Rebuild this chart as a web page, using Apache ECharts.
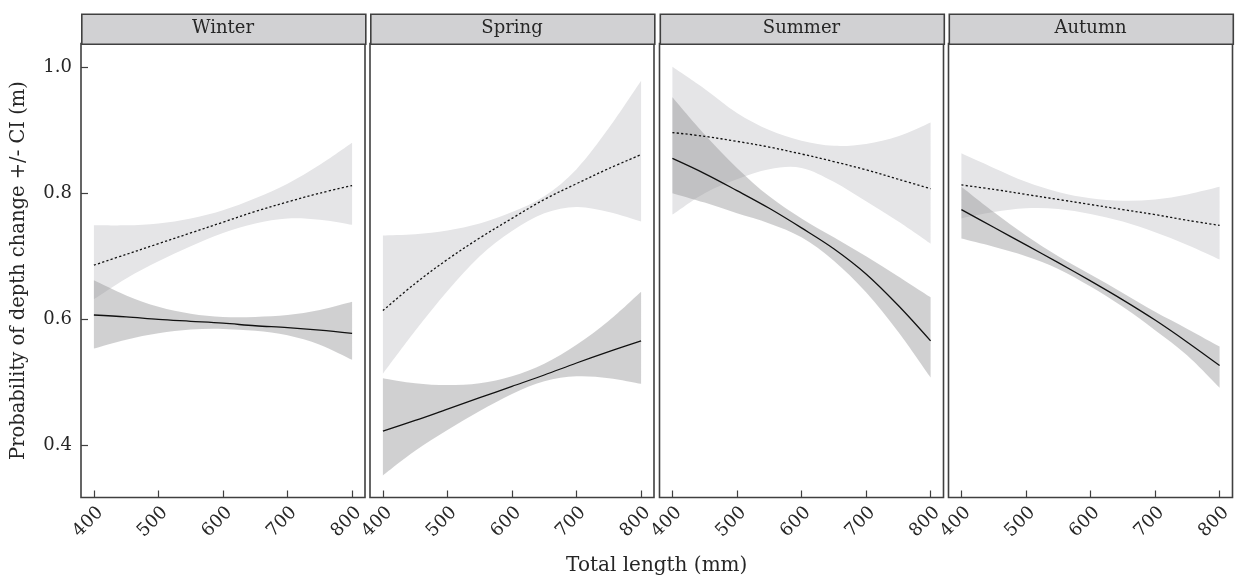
<!DOCTYPE html>
<html>
<head>
<meta charset="utf-8">
<script src="https://cdn.jsdelivr.net/npm/echarts@6/dist/echarts.min.js"></script>
<style>
html,body{margin:0;padding:0;background:#fff;}
#chart{width:1238px;height:579px;}
</style>
</head>
<body>
<div id="chart"></div>
<script>
// ---- data ----
const seasons = ['Winter', 'Spring', 'Summer', 'Autumn'];
const lengths = [400, 450, 500, 550, 600, 650, 700, 750, 800];
const xTicks = [400, 500, 600, 700, 800];
const yTicks = [0.4, 0.6, 0.8, 1.0];

// dotted line series (light CI band)
const winterDotted   = [0.686, 0.703, 0.720, 0.737, 0.754, 0.771, 0.786, 0.800, 0.812];
const winterDottedLo = [0.632, 0.665, 0.692, 0.716, 0.737, 0.752, 0.760, 0.758, 0.750];
const winterDottedHi = [0.749, 0.749, 0.752, 0.760, 0.773, 0.792, 0.815, 0.845, 0.880];
// solid line series (dark CI band)
const winterSolid    = [0.607, 0.604, 0.600, 0.597, 0.594, 0.590, 0.587, 0.583, 0.578];
const winterSolidLo  = [0.554, 0.568, 0.578, 0.584, 0.585, 0.582, 0.575, 0.560, 0.536];
const winterSolidHi  = [0.662, 0.638, 0.620, 0.609, 0.604, 0.604, 0.607, 0.615, 0.628];

const springDotted   = [0.614, 0.657, 0.695, 0.729, 0.760, 0.790, 0.815, 0.839, 0.861];
const springDottedLo = [0.514, 0.582, 0.645, 0.700, 0.740, 0.768, 0.778, 0.770, 0.755];
const springDottedHi = [0.733, 0.735, 0.741, 0.752, 0.770, 0.795, 0.838, 0.903, 0.978];
const springSolid    = [0.423, 0.440, 0.458, 0.476, 0.494, 0.512, 0.531, 0.549, 0.566];
const springSolidLo  = [0.353, 0.392, 0.425, 0.455, 0.482, 0.502, 0.510, 0.507, 0.498];
const springSolidHi  = [0.507, 0.499, 0.496, 0.499, 0.510, 0.530, 0.560, 0.598, 0.644];

const summerDotted   = [0.896, 0.890, 0.882, 0.873, 0.862, 0.850, 0.837, 0.822, 0.807];
const summerDottedLo = [0.766, 0.800, 0.822, 0.838, 0.840, 0.818, 0.787, 0.755, 0.720];
const summerDottedHi = [1.000, 0.965, 0.927, 0.900, 0.883, 0.875, 0.878, 0.890, 0.912];
const summerSolid    = [0.855, 0.831, 0.804, 0.776, 0.745, 0.712, 0.672, 0.622, 0.566];
const summerSolidLo  = [0.800, 0.785, 0.768, 0.752, 0.730, 0.693, 0.643, 0.580, 0.508];
const summerSolidHi  = [0.952, 0.893, 0.840, 0.795, 0.760, 0.730, 0.700, 0.668, 0.635];

const autumnDotted   = [0.813, 0.806, 0.798, 0.790, 0.782, 0.774, 0.766, 0.757, 0.749];
const autumnDottedLo = [0.760, 0.770, 0.776, 0.775, 0.767, 0.755, 0.738, 0.718, 0.695];
const autumnDottedHi = [0.863, 0.840, 0.818, 0.802, 0.792, 0.788, 0.790, 0.798, 0.810];
const autumnSolid    = [0.774, 0.746, 0.718, 0.690, 0.661, 0.631, 0.599, 0.564, 0.527];
const autumnSolidLo  = [0.728, 0.715, 0.700, 0.680, 0.652, 0.620, 0.583, 0.543, 0.492];
const autumnSolidHi  = [0.810, 0.770, 0.733, 0.700, 0.671, 0.642, 0.612, 0.585, 0.557];

const panels = [
  {dotted: winterDotted, dLo: winterDottedLo, dHi: winterDottedHi, solid: winterSolid, sLo: winterSolidLo, sHi: winterSolidHi},
  {dotted: springDotted, dLo: springDottedLo, dHi: springDottedHi, solid: springSolid, sLo: springSolidLo, sHi: springSolidHi},
  {dotted: summerDotted, dLo: summerDottedLo, dHi: summerDottedHi, solid: summerSolid, sLo: summerSolidLo, sHi: summerSolidHi},
  {dotted: autumnDotted, dLo: autumnDottedLo, dHi: autumnDottedHi, solid: autumnSolid, sLo: autumnSolidLo, sHi: autumnSolidHi}
];

// ---- layout / style ----
const FONT = 'DejaVu Serif';
const TXT = '#262626';
const BORDER = '#404040';
const gridLefts = [81, 370, 659.5, 948.5];
const gridW = 284, gridTop = 43.5, gridH = 454;
const stripTop = 13.5, stripH = 30;
const SMOOTH = 0.35;

const pairs = arr => arr.map((v, i) => [lengths[i], v]);

// smooth path (Catmull-Rom -> cubic Bezier) through pixel points
function curveCmds(pts) {
  let s = '';
  for (let i = 0; i < pts.length - 1; i++) {
    const p0 = pts[Math.max(i - 1, 0)], p1 = pts[i], p2 = pts[i + 1], p3 = pts[Math.min(i + 2, pts.length - 1)];
    const c1 = [p1[0] + (p2[0] - p0[0]) / 6, p1[1] + (p2[1] - p0[1]) / 6];
    const c2 = [p2[0] - (p3[0] - p1[0]) / 6, p2[1] - (p3[1] - p1[1]) / 6];
    s += ' C' + c1[0].toFixed(2) + ',' + c1[1].toFixed(2) + ' ' + c2[0].toFixed(2) + ',' + c2[1].toFixed(2) + ' ' + p2[0].toFixed(2) + ',' + p2[1].toFixed(2);
  }
  return s;
}

function bandSeries(k, lo, hi, fill, z) {
  return {
    type: 'custom', xAxisIndex: k, yAxisIndex: k, silent: true, z: z, animation: false,
    data: lengths.map((x, i) => [x, lo[i], hi[i]]),
    encode: {x: 0, y: [1, 2]},
    renderItem: function (params, api) {
      if (params.dataIndexInside !== 0) return null;
      const n = params.dataInsideLength;
      const up = [], dn = [];
      for (let i = 0; i < n; i++) {
        up.push(api.coord([api.value(0, i), api.value(2, i)]));
        dn.push(api.coord([api.value(0, i), api.value(1, i)]));
      }
      dn.reverse();
      const d = 'M' + up[0][0] + ',' + up[0][1] + curveCmds(up) +
        ' L' + dn[0][0] + ',' + dn[0][1] + curveCmds(dn) + ' Z';
      return {type: 'path', shape: {pathData: d}, style: {fill: fill, stroke: null}};
    }
  };
}

const grid = [], xAxis = [], yAxis = [], series = [], graphic = [];

panels.forEach((p, k) => {
  grid.push({left: gridLefts[k], top: gridTop, width: gridW, height: gridH,
    show: true, borderColor: BORDER, borderWidth: 1.6, backgroundColor: 'transparent', containLabel: false});
  xAxis.push({
    type: 'value', gridIndex: k, min: 380, max: 820,
    axisLine: {show: false},
    splitLine: {show: false},
    axisTick: {show: true, inside: true, length: 7, customValues: xTicks, lineStyle: {color: BORDER, width: 1.2}},
    axisLabel: {show: true, customValues: xTicks, rotate: 45, align: 'right', verticalAlign: 'top',
      margin: 6, fontFamily: FONT, fontSize: 18, color: TXT, formatter: v => String(Math.round(v))}
  });
  const y = {
    type: 'value', gridIndex: k, min: 0.318, max: 1.037,
    axisLine: {show: false},
    splitLine: {show: false},
    axisTick: {show: k === 0, inside: true, length: 7, customValues: yTicks, lineStyle: {color: BORDER, width: 1.2}},
    axisLabel: {show: k === 0, customValues: yTicks, margin: 9, fontFamily: FONT, fontSize: 18, color: TXT,
      formatter: v => v.toFixed(1)}
  };
  if (k === 0) {
    Object.assign(y, {name: 'Probability of depth change +/- CI (m)', nameLocation: 'middle', nameGap: 52,
      nameRotate: 90, nameTextStyle: {fontFamily: FONT, fontSize: 19.5, color: TXT}});
  }
  yAxis.push(y);

  // light band (dotted series CI), dark translucent band (solid series CI)
  series.push(bandSeries(k, p.dLo, p.dHi, '#e5e5e7', 1));
  series.push(bandSeries(k, p.sLo, p.sHi, 'rgba(144,144,146,0.42)', 2));

  const base = {type: 'line', xAxisIndex: k, yAxisIndex: k, showSymbol: false, symbol: 'none', silent: true,
    smooth: SMOOTH, animation: false, z: 3};
  series.push(Object.assign({}, base, {name: 'dotted' + k, data: pairs(p.dotted),
    lineStyle: {color: '#111', width: 1.3, type: [2.2, 2.2]}}));
  series.push(Object.assign({}, base, {name: 'solid' + k, data: pairs(p.solid),
    lineStyle: {color: '#111', width: 1.3, type: 'solid'}}));

  // strip
  graphic.push({type: 'rect', left: gridLefts[k], top: stripTop, z: 10,
    shape: {width: gridW, height: stripH},
    style: {fill: '#d1d1d3', stroke: BORDER, lineWidth: 1.6}});
  graphic.push({type: 'text', x: gridLefts[k] + gridW / 2, y: stripTop + stripH / 2, z: 11,
    style: {text: seasons[k], font: '18px "' + FONT + '"', fill: TXT, textAlign: 'center', textVerticalAlign: 'middle'}});
});

graphic.push({type: 'text', x: (gridLefts[0] + gridLefts[3] + gridW) / 2, y: 566, z: 11,
  style: {text: 'Total length (mm)', font: '20px "' + FONT + '"', fill: TXT, textAlign: 'center', textVerticalAlign: 'middle'}});

const chart = echarts.init(document.getElementById('chart'), null, {renderer: 'canvas'});
chart.setOption({
  animation: false,
  backgroundColor: '#fff',
  grid, xAxis, yAxis, series, graphic
});
</script>
</body>
</html>
